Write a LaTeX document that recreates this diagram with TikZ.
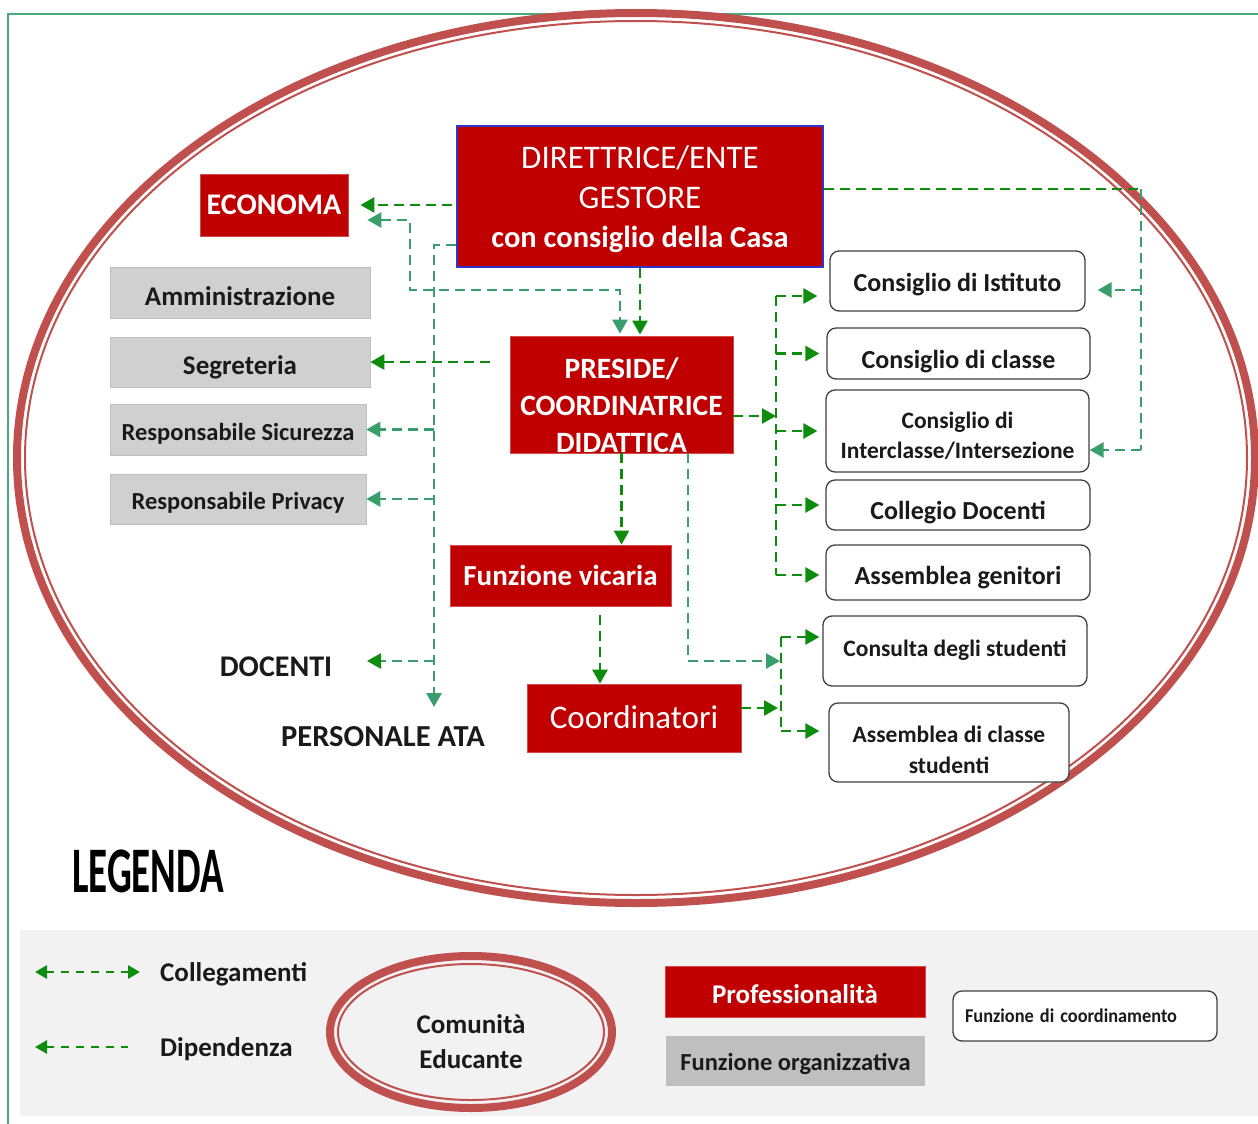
\documentclass[tikz,border=0pt]{standalone}
\usepackage{fontspec}
\setmainfont{Carlito}
\usetikzlibrary{arrows.meta,calc}
\definecolor{boxred}{HTML}{C00000}
\definecolor{ellred}{HTML}{C0504D}
\definecolor{gbox}{HTML}{D0D0D0}
\definecolor{gboxb}{HTML}{BFBFBF}
\definecolor{lbg}{HTML}{F2F2F2}
\definecolor{dgreen}{HTML}{0E8C0E}
\definecolor{sgreen}{HTML}{3A9E6C}
\definecolor{frameg}{HTML}{4AA87A}
\definecolor{txt}{HTML}{1A1A1A}
\definecolor{dirblue}{HTML}{3333CC}
\newcommand{\fsz}[2]{\fontsize{#1pt}{#2pt}\selectfont}
\newcommand{\dn}[2]{\raisebox{-#1}[\height][\depth]{#2}}
\begin{document}
\begin{tikzpicture}[x=1pt,y=-1pt,
 redbox/.style={fill=boxred, draw=boxred!70!white, line width=0.8pt, text=white, inner sep=0pt, align=center},
 graybox/.style={fill=gbox, draw=gbox!92!black, line width=0.6pt, text=txt, inner sep=0pt, align=center},
 whitebox/.style={fill=white, draw=black!75, line width=1.3pt, rounded corners=9pt, text=txt, inner sep=0pt, align=center},
 conn/.style={dash pattern=on 10pt off 6pt, line width=2.7pt},
 dg/.style={conn, draw=dgreen},
 sg/.style={conn, draw=sgreen},
 tipE/.style={-{Triangle[length=14pt,width=15pt]}},
 tipS/.style={{Triangle[length=14pt,width=15pt]}-},
 tipB/.style={{Triangle[length=14pt,width=15pt]}-{Triangle[length=14pt,width=15pt]}},
 ltipS/.style={{Triangle[length=12pt,width=13pt]}-},
 ltipB/.style={{Triangle[length=12pt,width=13pt]}-{Triangle[length=12pt,width=13pt]}},
]
\useasboundingbox (0,0) rectangle (1258,1124);
\clip (0,0) rectangle (1258,1124);
\fill[white] (0,0) rectangle (1258,1124);
% frame
\draw[frameg, line width=2pt] (8,1124) -- (8,14) -- (1258,14);
% big ellipse
\draw[ellred, line width=8pt] (636,458) ellipse [x radius=619, y radius=445];
\draw[ellred, line width=2pt] (636,458) ellipse [x radius=611, y radius=437];
% legend background
\fill[lbg] (20,930) rectangle (1258,1116);

% ---------- nodes ----------
\node[redbox, draw=dirblue, line width=1.5pt, minimum width=366pt, minimum height=141pt, font=\fsz{33}{40}] (dir) at (640,196.5)
  {\dn{3pt}{DIRETTRICE/ENTE}\\\dn{3pt}{GESTORE}\\\dn{2pt}{\bfseries\fsz{30.5}{40}con consiglio della Casa}};
\node[redbox, font=\bfseries\fsz{30}{36}, minimum width=148pt, minimum height=62pt] (eco) at (274,205) {ECONOMA};
\node[graybox, font=\bfseries\fsz{27}{32}, minimum width=260pt, minimum height=51pt] (amm) at (240,292.5) {\dn{4pt}{Amministrazione}};
\node[graybox, font=\bfseries\fsz{27}{32}, minimum width=260pt, minimum height=50pt] (seg) at (240,362) {\dn{5pt}{Segreteria}};
\node[graybox, font=\bfseries\fsz{24.5}{30}, minimum width=256pt, minimum height=51pt] (sic) at (238,429.5) {\dn{4pt}{Responsabile Sicurezza}};
\node[graybox, font=\bfseries\fsz{24.5}{30}, minimum width=256pt, minimum height=50pt] (pri) at (238,499) {\dn{4pt}{Responsabile Privacy}};

\node[redbox, minimum width=223pt, minimum height=117pt] (pre) at (621.5,394.5) {};
\node[text=white, font=\bfseries\fsz{29.5}{37}, align=center, inner sep=0pt] (pretxt) at (621.5,405) {PRESIDE/\\COORDINATRICE\\DIDATTICA};
\node[redbox, font=\bfseries\fsz{29}{34}, minimum width=221pt, minimum height=61pt] (fv) at (560.5,575.5) {Funzione vicaria};
\node[redbox, font=\fsz{33}{38}, minimum width=214pt, minimum height=68pt] (coo) at (634,718) {\dn{-1pt}{Coordinatori}};
\node[text=txt, font=\bfseries\fsz{30}{34}, inner sep=0pt] (doc) at (276,667) {DOCENTI};
\node[text=txt, font=\bfseries\fsz{30.5}{34}, inner sep=0pt] (ata) at (383,737) {PERSONALE ATA};

\node[whitebox, font=\bfseries\fsz{26}{30}, minimum width=255pt, minimum height=60pt] (ist) at (957.5,281) {\dn{4pt}{Consiglio di Istituto}};
\node[whitebox, font=\bfseries\fsz{26}{30}, minimum width=263pt, minimum height=51pt] (cla) at (958.5,353.5) {\dn{8pt}{Consiglio di classe}};
\node[whitebox, font=\bfseries\fsz{23.5}{30}, minimum width=263pt, minimum height=82pt] (int) at (957.5,431) {\dn{5pt}{Consiglio di}\\\dn{5pt}{Interclasse/Intersezione}};
\node[whitebox, font=\bfseries\fsz{26}{30}, minimum width=264pt, minimum height=50pt] (col) at (958,505) {\dn{8pt}{Collegio Docenti}};
\node[whitebox, font=\bfseries\fsz{26}{30}, minimum width=264pt, minimum height=55pt] (gen) at (958,572.5) {\dn{5pt}{Assemblea genitori}};
\node[whitebox, font=\bfseries\fsz{23.5}{30}, minimum width=264pt, minimum height=70pt] (cons) at (955,651) {\dn{-1pt}{Consulta degli studenti}};
\node[whitebox, font=\bfseries\fsz{23.5}{31}, minimum width=240pt, minimum height=79pt] (asc) at (949,742.5) {\dn{7pt}{Assemblea di classe}\\\dn{7pt}{studenti}};

% ---------- connectors ----------
\draw[dg,tipE,shorten <=4pt,shorten >=12pt] (dir.west |- eco.east) -- (eco.east);
\coordinate (k1) at (410,220);
\coordinate (k2) at (620,290);
\draw[sg,tipB,shorten <=19pt,shorten >=2pt] (eco.east |- k1) -- (k1) -- (k1 |- k2) -- (k2) -- (k2 |- pre.north);
\draw[dg,tipE,shorten >=1pt] (dir.south) -- (dir.south |- pre.north);

\coordinate (v1) at (434,245);
\coordinate (v2) at (434,707);
\draw[sg,tipE] (dir.west |- v1) -- (v1) -- (v2);
\draw[sg,tipE] (v1 |- sic.east) -- (sic.east);
\draw[sg,tipE] (v1 |- pri.east) -- (pri.east);
\coordinate (dd) at (434,661);
\coordinate (de) at (367,661);
\draw[sg,-{Triangle[length=14pt,width=15pt,color=dgreen]}] (dd) -- (de);

\draw[dg,tipE,shorten <=20pt] (pre.west |- seg.east) -- (seg.east);

\coordinate (r1) at (776,416);
\draw[dg,tipE] (pre.east |- r1) -- (r1);
\coordinate (rt) at (776,296);
\coordinate (rb) at (776,575);
\draw[dg] (rt) -- (rb);
\draw[dg,tipE,shorten >=12pt] (rt) -- (rt -| ist.west);
\draw[dg,tipE,shorten >=7pt] (rt |- cla.west) -- (cla.west);
\draw[dg,tipE,shorten >=8pt] (rt |- int.west) -- (int.west);
\draw[dg,tipE,shorten >=6pt] (rt |- col.west) -- (col.west);
\draw[dg,tipE,shorten >=6pt] (rb) -- (rb -| gen.west);

\coordinate (q1) at (1141,189);
\coordinate (q2) at (1141,450);
\coordinate (q3) at (1141,290);
\draw[dg] (dir.east |- q1) -- (q1);
\draw[sg] (q1) -- (q2);
\draw[sg,tipE,shorten >=12pt] (q3) -- (q3 -| ist.east);
\draw[sg,tipE] (q2) -- (q2 -| int.east);

\draw[dg,tipE] (pre.south) -- (pre.south |- fv.north);
\coordinate (f1) at (600,615);
\draw[dg,tipE,shorten <=9pt] (fv.south -| f1) -- (f1 |- coo.north);

\coordinate (p1) at (688,661);
\coordinate (p2) at (780,661);
\draw[sg,tipE] (pre.south -| p1) -- (p1) -- (p2);

\coordinate (s1) at (781,637);
\coordinate (s2) at (781,731);
\coordinate (s3) at (778,708);
\draw[dg] (s1) -- (s2);
\draw[dg,tipE,shorten >=3pt] (s1) -- (s1 -| cons.west);
\draw[dg,tipE,shorten >=9pt] (s2) -- (s2 -| asc.west);
\draw[dg,tipE] (coo.east |- s3) -- (s3);

% ---------- legend ----------
\node[text=black, inner sep=0pt] (leg) at (148,871) {\scalebox{0.6}[1]{\bfseries\fsz{65}{70}LEGENDA}};
\coordinate (la1) at (35,972);
\coordinate (la2) at (140,972);
\coordinate (lb1) at (35,1047);
\coordinate (lb2) at (128,1047);
\draw[dgreen, line width=2.8pt, dash pattern=on 8pt off 7pt, ltipB] (la1) -- (la2);
\draw[dgreen, line width=2.8pt, dash pattern=on 8pt off 7pt, ltipS] (lb1) -- (lb2);
\node[anchor=west, text=txt, font=\bfseries\fsz{27}{30}, inner sep=0pt] (lcol) at (160,974) {Collegamenti};
\node[anchor=west, text=txt, font=\bfseries\fsz{27}{30}, inner sep=0pt] (ldip) at (160,1049) {Dipendenza};
\draw[ellred, line width=8pt] (471,1032) ellipse [x radius=141, y radius=76];
\draw[ellred, line width=2pt] (471,1032) ellipse [x radius=133, y radius=68];
\node[text=txt, font=\bfseries\fsz{27}{35}, align=center, inner sep=0pt] (com) at (471,1042) {Comunità\\Educante};
\node[redbox, font=\bfseries\fsz{27}{32}, minimum width=260pt, minimum height=51pt] (lpro) at (795,991.5) {\dn{3pt}{Professionalità}};
\node[fill=gboxb, text=txt, font=\bfseries\fsz{24.5}{30}, minimum width=259pt, minimum height=50pt, inner sep=0pt] (lorg) at (795.5,1061) {\dn{3pt}{Funzione organizzativa}};
\node[whitebox, font=\bfseries\fsz{19.5}{24}, align=left, text width=240pt, inner xsep=12pt, minimum height=50pt] (lcoo) at (1085,1016) {\scalebox{0.94}[1]{Funzione di coordinamento}};
\end{tikzpicture}
\end{document}
